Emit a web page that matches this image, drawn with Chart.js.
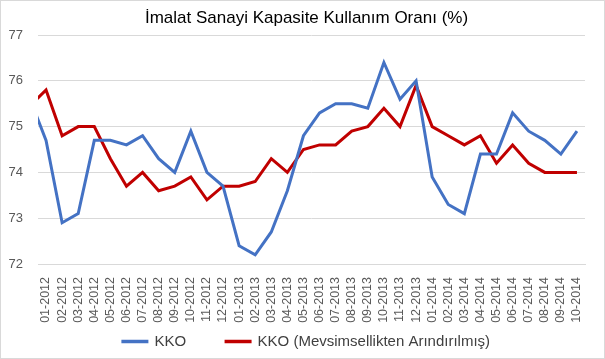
<!DOCTYPE html>
<html lang="tr">
<head>
<meta charset="UTF-8">
<title>İmalat Sanayi Kapasite Kullanım Oranı</title>
<script src="https://cdn.jsdelivr.net/npm/chart.js"></script>
<style>
  html, body { margin: 0; padding: 0; background: #fff; }
  #wrap { position: relative; width: 603px; height: 357px; border: 1px solid #d9d9d9; }
</style>
</head>
<body>
<div id="wrap"><canvas id="kkoChart" width="603" height="357"></canvas></div>
<script>
// first month (12-2011) sits left of the axis and is only visible as the clipped start of each line
const months = ['12-2011',
  '01-2012','02-2012','03-2012','04-2012','05-2012','06-2012','07-2012','08-2012','09-2012','10-2012','11-2012','12-2012',
  '01-2013','02-2013','03-2013','04-2013','05-2013','06-2013','07-2013','08-2013','09-2013','10-2013','11-2013','12-2013',
  '01-2014','02-2014','03-2014','04-2014','05-2014','06-2014','07-2014','08-2014','09-2014','10-2014'];

const kko = [75.6,
  74.7, 72.9, 73.1, 74.7, 74.7, 74.6, 74.8, 74.3, 74.0, 74.9, 74.0, 73.7,
  72.4, 72.2, 72.7, 73.6, 74.8, 75.3, 75.5, 75.5, 75.4, 76.4, 75.6, 76.0,
  73.9, 73.3, 73.1, 74.4, 74.4, 75.3, 74.9, 74.7, 74.4, 74.9];

const kkoSa = [75.45,
  75.8, 74.8, 75.0, 75.0, 74.3, 73.7, 74.0, 73.6, 73.7, 73.9, 73.4, 73.7,
  73.7, 73.8, 74.3, 74.0, 74.5, 74.6, 74.6, 74.9, 75.0, 75.4, 75.0, 75.9,
  75.0, 74.8, 74.6, 74.8, 74.2, 74.6, 74.2, 74.0, 74.0, 74.0];

const yMin = 72, yMax = 77;

const font = 'Arial, "Liberation Sans", sans-serif';

// legend uses a wide padding for the gap between items; pull it back up so the
// text sits right under the rotated month labels
const legendLift = {
  id: 'legendLift',
  afterLayout(chart) {
    chart.legend.top -= 30;
  }
};

new Chart(document.getElementById('kkoChart'), {
  type: 'line',
  data: {
    labels: months,
    datasets: [
      {
        label: 'KKO',
        data: kko,
        borderColor: '#4472C4',
        backgroundColor: '#4472C4',
        borderWidth: 3,
        pointRadius: 0,
        tension: 0,
        fill: false
      },
      {
        label: 'KKO (Mevsimsellikten Arındırılmış)',
        data: kkoSa,
        borderColor: '#C00000',
        backgroundColor: '#C00000',
        borderWidth: 3,
        pointRadius: 0,
        tension: 0,
        fill: false
      }
    ]
  },
  plugins: [legendLift],
  options: {
    responsive: false,
    animation: false,
    layout: { padding: { left: 8, right: 0, top: 0, bottom: 0 } },
    scales: {
      x: {
        min: '01-2012',
        offset: true,
        grid: { display: false },
        border: { color: '#d9d9d9' },
        ticks: {
          autoSkip: false,
          minRotation: 90,
          maxRotation: 90,
          padding: 5,
          color: '#595959',
          font: { family: font, size: 12.5 }
        },
        afterFit: s => { s.height = 60; }
      },
      y: {
        min: yMin,
        max: yMax,
        grid: { color: '#d9d9d9', drawTicks: false },
        border: { display: false },
        ticks: {
          stepSize: 1,
          padding: 15,
          color: '#595959',
          font: { family: font, size: 13 }
        },
        afterFit: s => { s.width = 29; }
      },
      // empty strip on the right of the plot
      yRight: {
        position: 'right',
        grid: { display: false },
        border: { display: false },
        ticks: { display: false },
        afterFit: s => { s.width = 19; }
      }
    },
    plugins: {
      title: {
        display: true,
        text: 'İmalat Sanayi Kapasite Kullanım Oranı (%)',
        color: '#000',
        font: { family: font, size: 17, weight: 'normal' },
        padding: { top: 7, bottom: 6.6 }
      },
      legend: {
        position: 'bottom',
        maxHeight: 34,
        labels: {
          boxWidth: 24,
          boxHeight: 0.5,
          padding: 40,
          color: '#404040',
          font: { family: font, size: 15 }
        }
      },
      tooltip: { enabled: false }
    }
  }
});
</script>
</body>
</html>
